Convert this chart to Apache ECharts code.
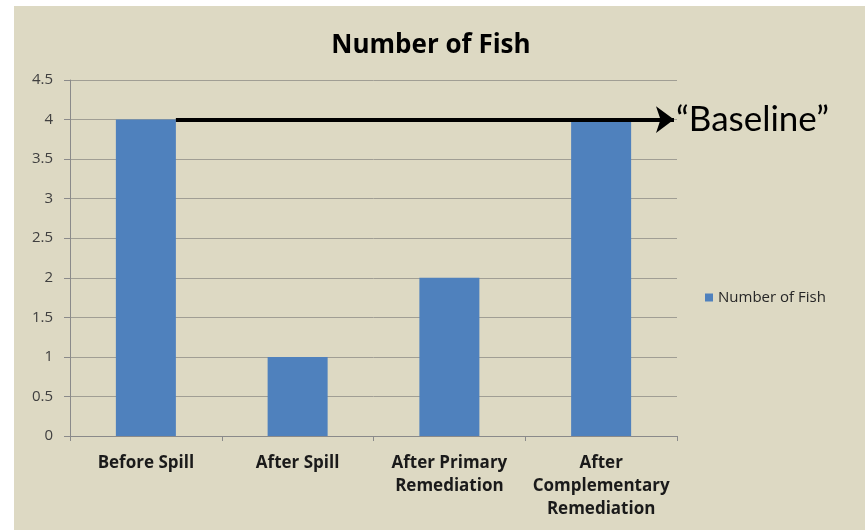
<!DOCTYPE html>
<html>
<head>
<meta charset="utf-8">
<script src="https://cdn.jsdelivr.net/npm/echarts@6/dist/echarts.min.js"></script>
<style>
  html, body { margin: 0; padding: 0; background: #ffffff; }
  #chart { position: absolute; left: 14px; top: 6px; width: 851px; height: 524px; }
</style>
</head>
<body>
<div id="chart"></div>
<script>
const categories = ['Before Spill', 'After Spill', 'After Primary\nRemediation', 'After\nComplementary\nRemediation'];
const fishCounts = [4, 1, 2, 4];
const seriesName = 'Number of Fish';
const baselineValue = 4;
const baselineLabel = '\u201CBaseline\u201D';

const FONT = '"Open Sans", Lato, sans-serif';
const FONT_BIG = 'Lato, "Open Sans", sans-serif';
const BAR_WIDTH = 60;

const chart = echarts.init(document.getElementById('chart'), null, { renderer: 'canvas' });

const option = {
  backgroundColor: '#ddd9c3',
  animation: false,
  textStyle: { fontFamily: FONT },
  graphic: [{
    type: 'text',
    x: 417, y: 40,
    style: {
      text: 'Number of Fish',
      font: 'bold 26px ' + FONT,
      fill: '#000000',
      textAlign: 'center',
      textVerticalAlign: 'middle'
    }
  }],
  legend: {
    data: [seriesName],
    left: 686, top: 279,
    icon: 'rect',
    itemWidth: 8, itemHeight: 8, itemGap: 5,
    textStyle: { fontSize: 15, color: '#262626', fontFamily: FONT }
  },
  grid: { left: 56, top: 74, right: 188, bottom: 94, containLabel: false },
  xAxis: {
    type: 'category',
    data: categories,
    axisLine: { lineStyle: { color: '#8a8a8a', width: 1 } },
    axisTick: { show: true, length: 5, lineStyle: { color: '#8a8a8a' } },
    axisLabel: {
      interval: 0, margin: 16,
      fontSize: 17, fontWeight: 'bold', color: '#1a1a1a',
      lineHeight: 23, fontFamily: FONT
    },
    splitLine: { show: false }
  },
  yAxis: {
    type: 'value',
    min: 0, max: 4.5, interval: 0.5,
    axisLine: { show: true, lineStyle: { color: '#8a8a8a' } },
    axisTick: { show: true, length: 6, lineStyle: { color: '#8a8a8a' } },
    axisLabel: { fontSize: 15, color: '#404040', margin: 17, fontFamily: FONT },
    splitLine: { lineStyle: { color: '#a09e94', width: 1 } }
  },
  series: [{
    name: seriesName,
    type: 'bar',
    data: fishCounts,
    barWidth: BAR_WIDTH,
    itemStyle: { color: '#4f81bd' }
  }]
};
chart.setOption(option);

// Baseline arrow: from the right edge of the first bar to the end of the plot
const p0 = chart.convertToPixel({ xAxisIndex: 0, yAxisIndex: 0 }, [0, baselineValue]);
const p1 = chart.convertToPixel({ xAxisIndex: 0, yAxisIndex: 0 }, [1, baselineValue]);
const pLast = chart.convertToPixel({ xAxisIndex: 0, yAxisIndex: 0 }, [categories.length - 1, baselineValue]);
const band = p1[0] - p0[0];
const startX = p0[0] + BAR_WIDTH / 2;
const endX = pLast[0] + band / 2 - 3;

chart.setOption({
  series: [{
    name: seriesName,
    markLine: {
      silent: true,
      z: 10,
      symbol: ['none', 'arrow'],
      symbolSize: [20, 18],
      lineStyle: { color: '#000000', width: 4, type: 'solid' },
      label: {
        show: true,
        position: 'end',
        distance: 2,
        formatter: baselineLabel,
        fontSize: 35,
        color: '#000000',
        fontFamily: FONT_BIG
      },
      data: [[{ x: startX, y: p0[1] }, { x: endX, y: p0[1] }]]
    }
  }]
});
</script>
</body>
</html>
